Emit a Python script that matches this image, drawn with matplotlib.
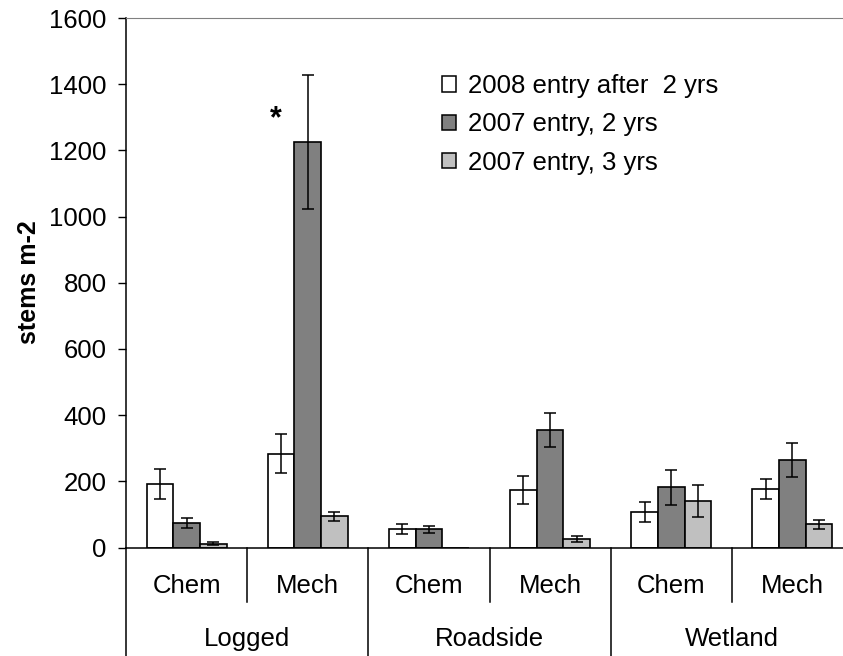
import matplotlib
matplotlib.use('Agg')
import matplotlib.pyplot as plt
from matplotlib.patches import Patch
import numpy as np

plt.rcParams['font.family'] = ['Liberation Sans', 'DejaVu Sans']

# sitios y tratamientos
sitios = ['Logged', 'Roadside', 'Wetland']
tratamientos = ['Chem', 'Mech', 'Chem', 'Mech', 'Chem', 'Mech']

series = ['2008 entry after  2 yrs', '2007 entry, 2 yrs', '2007 entry, 3 yrs']
colores = ['white', '#808080', '#c0c0c0']

# densidad media (stems m-2) por tratamiento
entrada_2008_2a = [191, 284, 55, 173, 106, 177]
entrada_2007_2a = [74, 1225, 55, 354, 182, 264]
entrada_2007_3a = [12, 94, 0, 25, 141, 70]

# error estandar
err_2008_2a = [45, 60, 15, 43, 30, 31]
err_2007_2a = [16, 203, 10, 51, 53, 51]
err_2007_3a = [4, 13, 0, 9, 48, 13]

valores = [entrada_2008_2a, entrada_2007_2a, entrada_2007_3a]
errores = [err_2008_2a, err_2007_2a, err_2007_3a]

fig = plt.figure(figsize=(8.43, 6.56), dpi=100)
# el eje se extiende un poco mas alla del borde derecho
ax = fig.add_axes([126 / 843, 108.5 / 656, 727 / 843, 529.5 / 656])

ancho = 0.22
centros = np.arange(len(tratamientos)) + 0.5
for k in range(3):
    xs = centros + (k - 1) * ancho
    ax.bar(xs, valores[k], width=ancho, color=colores[k], edgecolor='black',
           linewidth=1.2, zorder=2)
    # sin barra de error donde no hay dato
    mask = np.array(valores[k]) > 0
    ax.errorbar(xs[mask], np.array(valores[k])[mask], yerr=np.array(errores[k])[mask],
                fmt='none', ecolor='black', elinewidth=1.1, capsize=4, capthick=1.1, zorder=3)

ax.set_xlim(0, 6)
ax.set_ylim(0, 1600)
ax.set_yticks(np.arange(0, 1601, 200))
ax.set_xticks([])
ax.tick_params(axis='y', direction='out', length=6, width=1, pad=8, labelsize=18.5)

ax.spines['right'].set_visible(False)
ax.spines['top'].set_color('#808080')
ax.spines['left'].set_linewidth(1.1)
ax.spines['bottom'].set_linewidth(1.1)

# asterisco de diferencia significativa
ax.text(1.24, 1295, '*', ha='center', va='center', fontsize=22, fontweight='bold')

# etiquetas de dos niveles debajo del eje x
trans = ax.get_xaxis_transform()
for i in range(7):
    y_fin = -0.205 if i % 2 == 0 else -0.103
    ax.plot([i, i], [0, y_fin], color='black', linewidth=1.1, transform=trans, clip_on=False)
for i, t in enumerate(tratamientos):
    ax.text(i + 0.5, -0.072, t, ha='center', va='center', fontsize=18.5, transform=trans)
for j, s in enumerate(sitios):
    ax.text(2 * j + 1, -0.173, s, ha='center', va='center', fontsize=18.5, transform=trans)

fig.text(29 / 843, 1 - 282 / 656, 'stems m-2', rotation=90, ha='center', va='center',
         fontsize=18, fontweight='bold')

handles = [Patch(facecolor=c, edgecolor='black', linewidth=1.1) for c in colores]
ax.legend(handles, series, loc='upper left', bbox_to_anchor=(442 / 843, 1 - 74 / 656),
          bbox_transform=fig.transFigure, frameon=False, fontsize=18.5,
          handlelength=0.55, handleheight=0.55, handletextpad=0.45,
          labelspacing=0.56, borderpad=0, borderaxespad=0)

fig.savefig('out.png', dpi=100)
